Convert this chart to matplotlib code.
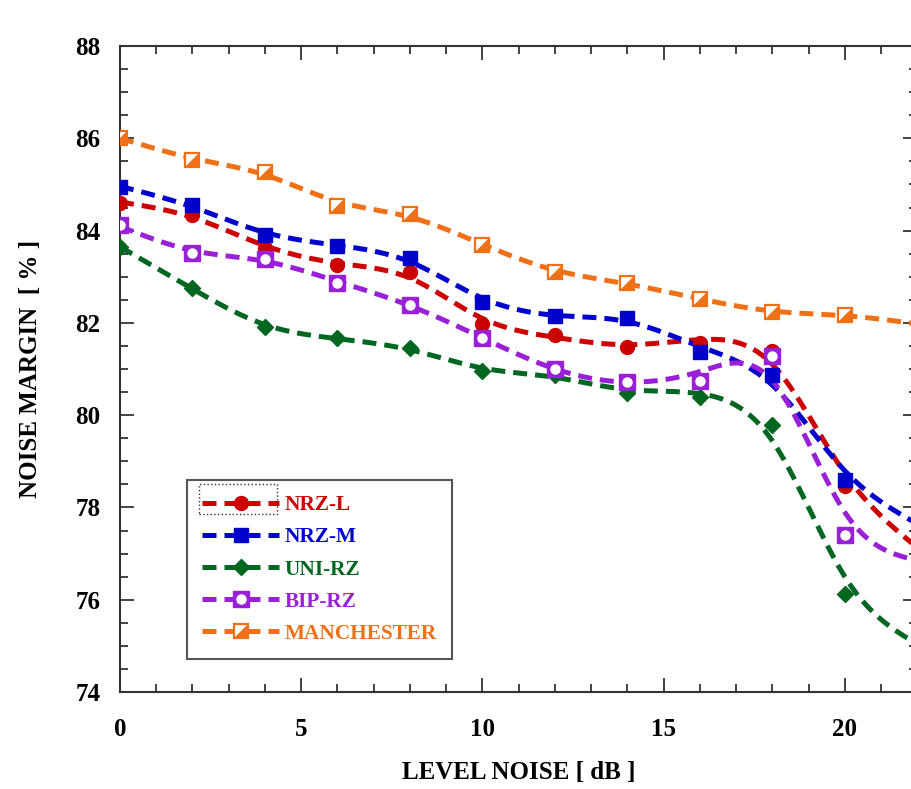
import numpy as np
import matplotlib.pyplot as plt
from matplotlib.lines import Line2D
from matplotlib.patches import Rectangle
from matplotlib.legend_handler import HandlerTuple

level = [0, 2, 4, 6, 8, 10, 12, 14, 16, 18, 20, 22]
nrz_l = [84.60, 84.34, 83.63, 83.25, 83.10, 81.98, 81.74, 81.48, 81.56, 81.39, 78.47, 77.20]
nrz_m = [84.95, 84.55, 83.91, 83.67, 83.41, 82.46, 82.14, 82.10, 81.37, 80.86, 78.60, 77.70]
uni_rz = [83.65, 82.76, 81.91, 81.67, 81.46, 80.96, 80.88, 80.48, 80.40, 79.79, 76.13, 75.15]
bip_rz = [84.11, 83.51, 83.39, 82.87, 82.39, 81.68, 80.99, 80.71, 80.74, 81.29, 77.40, 77.00]
manchester = [86.01, 85.53, 85.28, 84.54, 84.36, 83.69, 83.11, 82.87, 82.52, 82.23, 82.18, 81.97]

names = ["NRZ-L", "NRZ-M", "UNI-RZ", "BIP-RZ", "MANCHESTER"]
colors = ["#cc0000", "#0000cc", "#006620", "#9a20d8", "#f07018"]

plt.rcParams["font.family"] = "Liberation Serif"
plt.rcParams["font.weight"] = "bold"
plt.rcParams["axes.labelweight"] = "bold"

LW = 3.6
DASH = (2.8, 1.6)
# custom marker: lower-right half of a square
half_tri = [(-1, -1), (1, -1), (1, 1), (-1, -1)]


def smooth(x, y, p=0.3, step=0.1):
    # smoothing-spline style curve (penalised least squares on a fine grid), for drawing only
    x = np.asarray(x, float)
    y = np.asarray(y, float)
    xs = np.arange(x[0], x[-1] + step / 2, step)
    n = len(xs)
    idx = np.rint((x - x[0]) / step).astype(int)
    w = np.zeros(n)
    z = np.zeros(n)
    w[idx] = 1.0
    z[idx] = y
    D = np.diff(np.eye(n), 2, axis=0)
    A = np.diag(w) + p / step**3 * (D.T @ D)
    return xs, np.linalg.solve(A, w * z)


fig = plt.figure(figsize=(9.12, 7.89), dpi=100)
ax = fig.add_axes([120 / 912, 97 / 789, 797.5 / 912, 646 / 789])

series = [nrz_l, nrz_m, uni_rz, bip_rz, manchester]
for vals, c in zip(series, colors):
    sx, sy = smooth(level, vals)
    ln, = ax.plot(sx, sy, color=c, lw=LW, ls="--", zorder=2)
    ln.set_dashes(DASH)

mx = level[:-1]
ax.plot(mx, nrz_l[:-1], "o", color=colors[0], ms=10, zorder=3)
ax.plot(mx, nrz_m[:-1], "s", color=colors[1], ms=10.5, zorder=3)
ax.plot(mx, uni_rz[:-1], "D", color=colors[2], ms=8, zorder=3)
ax.plot(mx, bip_rz[:-1], "s", color=colors[3], ms=11, zorder=3)
ax.plot(mx, bip_rz[:-1], "o", color="white", ms=6.5, zorder=3)
ax.plot(mx, manchester[:-1], "s", mfc="white", mec=colors[4], mew=1.6, ms=10.5, zorder=3)
ax.plot(mx, manchester[:-1], marker=half_tri, ls="none", color=colors[4], ms=9.5, zorder=3)

ax.set_xlim(0, 22)
ax.set_ylim(74, 88)
ax.set_xticks([0, 5, 10, 15, 20])
ax.set_xticks(np.arange(0, 23, 1), minor=True)
ax.set_yticks(np.arange(74, 89, 2))
ax.set_yticks(np.arange(74, 88.1, 0.5), minor=True)
ax.tick_params(which="both", direction="in", top=True, right=True, width=1.2,
               color="#222222", labelsize=18)
ax.tick_params(which="major", length=10)
ax.tick_params(which="minor", length=6)
ax.tick_params(axis="x", pad=19)
ax.tick_params(axis="y", pad=14)
for s in ax.spines.values():
    s.set_linewidth(1.5)
    s.set_color("#333333")

ax.set_xlabel("LEVEL NOISE [ dB ]", fontsize=18, fontweight="bold", labelpad=14)
ax.set_ylabel("NOISE MARGIN  [ % ]", fontsize=18, fontweight="bold", labelpad=24)


def proxy(c, **kw):
    h = Line2D([], [], color=c, lw=LW, ls="--", **kw)
    h.set_dashes(DASH)
    return h


handles = [
    proxy(colors[0], marker="o", ms=10),
    proxy(colors[1], marker="s", ms=10.5),
    proxy(colors[2], marker="D", ms=8),
    (proxy(colors[3], marker="s", ms=11),
     Line2D([], [], ls="none", marker="o", color="white", ms=6.5)),
    (proxy(colors[4], marker="s", mfc="white", mec=colors[4], mew=1.6, ms=10.5),
     Line2D([], [], ls="none", marker=half_tri, color=colors[4], ms=9.5)),
]
leg = ax.legend(handles, names, loc="lower left", bbox_to_anchor=(0.084, 0.051),
                borderaxespad=0, handlelength=3.6, handletextpad=0.28, labelspacing=0.57,
                borderpad=0.72, fancybox=False, framealpha=1, edgecolor="#555555",
                prop={"family": "Liberation Serif", "weight": "bold", "size": 15.3},
                handler_map={tuple: HandlerTuple(ndivide=1, pad=0)})
leg.get_frame().set_linewidth(1.5)
for txt, c in zip(leg.get_texts(), colors):
    txt.set_color(c)

# dotted selection box round the first legend sample
fig.patches.append(Rectangle((199 / 912, 275 / 789), 78 / 912, 30 / 789, fill=False,
                             ls=":", lw=1.0, ec="#333333", transform=fig.transFigure))

fig.savefig("out.png", dpi=100)
